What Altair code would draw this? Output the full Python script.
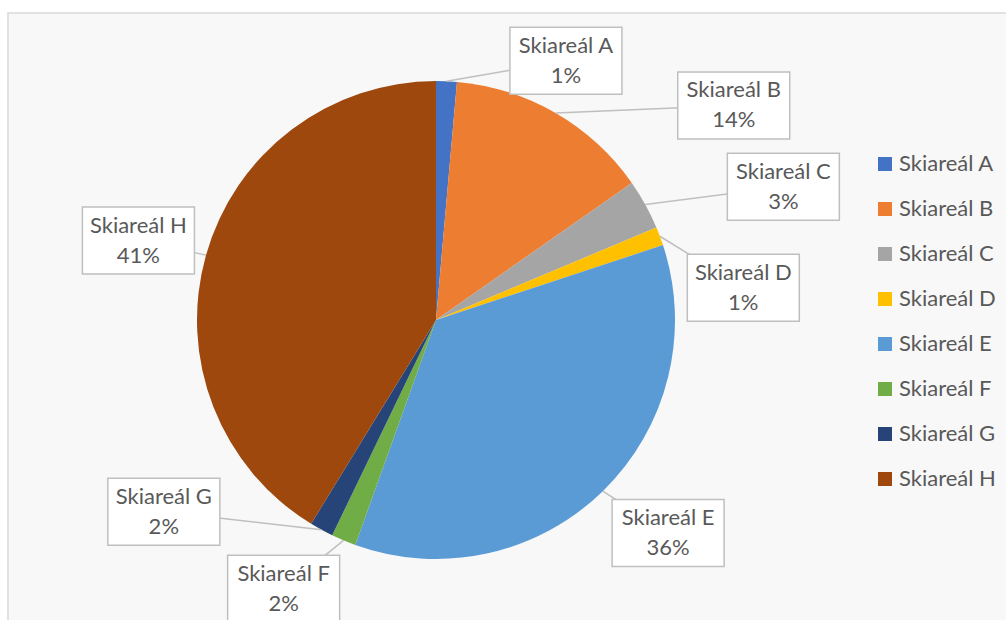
import math
import altair as alt
import pandas as pd

# ---- data ----
NAMES = ["Skiareál A", "Skiareál B", "Skiareál C", "Skiareál D",
         "Skiareál E", "Skiareál F", "Skiareál G", "Skiareál H"]
VALUES = [1.4, 13.9, 3.4, 1.25, 35.6, 1.67, 1.6, 41.3]
COLORS = ["#4472C4", "#ED7D31", "#A5A5A5", "#FFC000",
          "#5B9BD5", "#70AD47", "#264478", "#9E480E"]

# ---- layout (not data) ----
CX, CY, R = 436, 320, 239
LABEL_SHIFT_DEG = [24.1, 24.2, 7.9, 14.5, -3.2, 6.8, 26.2, -0.8]
LABEL_DIST = [290, 367, 372, 309, 315, 309, 333, 308]
BOX_W, BOX_H = 112, 67
FONT = "Lato"
FS = 22
TXT = "#595959"

total = sum(VALUES)
pie_df = pd.DataFrame({"name": NAMES, "value": VALUES, "idx": list(range(len(NAMES)))})

lab_rows, line_rows = [], []
cum = 0.0
for i, (n, v) in enumerate(zip(NAMES, VALUES)):
    mid = (cum + v / 2) / total * 2 * math.pi
    cum += v
    la = mid + math.radians(LABEL_SHIFT_DEG[i])
    bx = CX + LABEL_DIST[i] * math.sin(la)
    by = CY - LABEL_DIST[i] * math.cos(la)
    ax = CX + R * math.sin(mid)
    ay = CY - R * math.cos(mid)
    pct = f"{round(v / total * 100):.0f}%"
    lab_rows.append({"name": n, "pct": pct, "bx": bx, "by": by,
                     "x1": bx - BOX_W / 2, "x2": bx + BOX_W / 2,
                     "y1": by - BOX_H / 2, "y2": by + BOX_H / 2})
    line_rows.append({"name": n, "x": ax, "y": ay, "step": 0})
    line_rows.append({"name": n, "x": bx, "y": by, "step": 1})
lab_df = pd.DataFrame(lab_rows)
line_df = pd.DataFrame(line_rows)

bg = alt.Chart(pd.DataFrame({"a": [0]})).mark_rect(
    fill="#f8f8f8", stroke="#d9d9d9", strokeWidth=1.5
).encode(x=alt.value(8), x2=alt.value(1015), y=alt.value(13), y2=alt.value(640))

pie = alt.Chart(pie_df).mark_arc(outerRadius=R, stroke=None).encode(
    theta=alt.Theta("value:Q", stack=True),
    order=alt.Order("idx:Q"),
    color=alt.Color(
        "name:N",
        scale=alt.Scale(domain=NAMES, range=COLORS),
        legend=alt.Legend(
            title=None, orient="none", legendX=874, legendY=153,
            symbolType="square", symbolSize=196, symbolStrokeWidth=0,
            labelFont=FONT, labelFontSize=FS, labelColor=TXT,
            labelOffset=3, rowPadding=23, padding=0, labelLimit=200,
        ),
    ),
    x=alt.value(CX), y=alt.value(CY),
)

lines = alt.Chart(line_df).mark_line(color="#bfbfbf", strokeWidth=1.5).encode(
    x=alt.X("x:Q", scale=None, axis=None),
    y=alt.Y("y:Q", scale=None, axis=None),
    detail="name:N",
    order="step:Q",
)

boxes = alt.Chart(lab_df).mark_rect(fill="white", stroke="#bfbfbf", strokeWidth=1.5).encode(
    x=alt.X("x1:Q", scale=None, axis=None), x2="x2:Q",
    y=alt.Y("y1:Q", scale=None, axis=None), y2="y2:Q",
)

t1 = alt.Chart(lab_df).mark_text(font=FONT, fontSize=FS, color=TXT, dy=-15).encode(
    x=alt.X("bx:Q", scale=None, axis=None), y=alt.Y("by:Q", scale=None, axis=None),
    text="name:N",
)
t2 = alt.Chart(lab_df).mark_text(font=FONT, fontSize=FS, color=TXT, dy=15).encode(
    x=alt.X("bx:Q", scale=None, axis=None), y=alt.Y("by:Q", scale=None, axis=None),
    text="pct:N",
)

chart = alt.layer(bg, pie, lines, boxes, t1, t2).properties(
    width=1006, height=620, autosize=alt.AutoSizeParams(type="none"), padding=0,
    background="white",
).configure_view(strokeWidth=0)

chart.save("out.html", embed_options={"renderer": "svg", "actions": False})
